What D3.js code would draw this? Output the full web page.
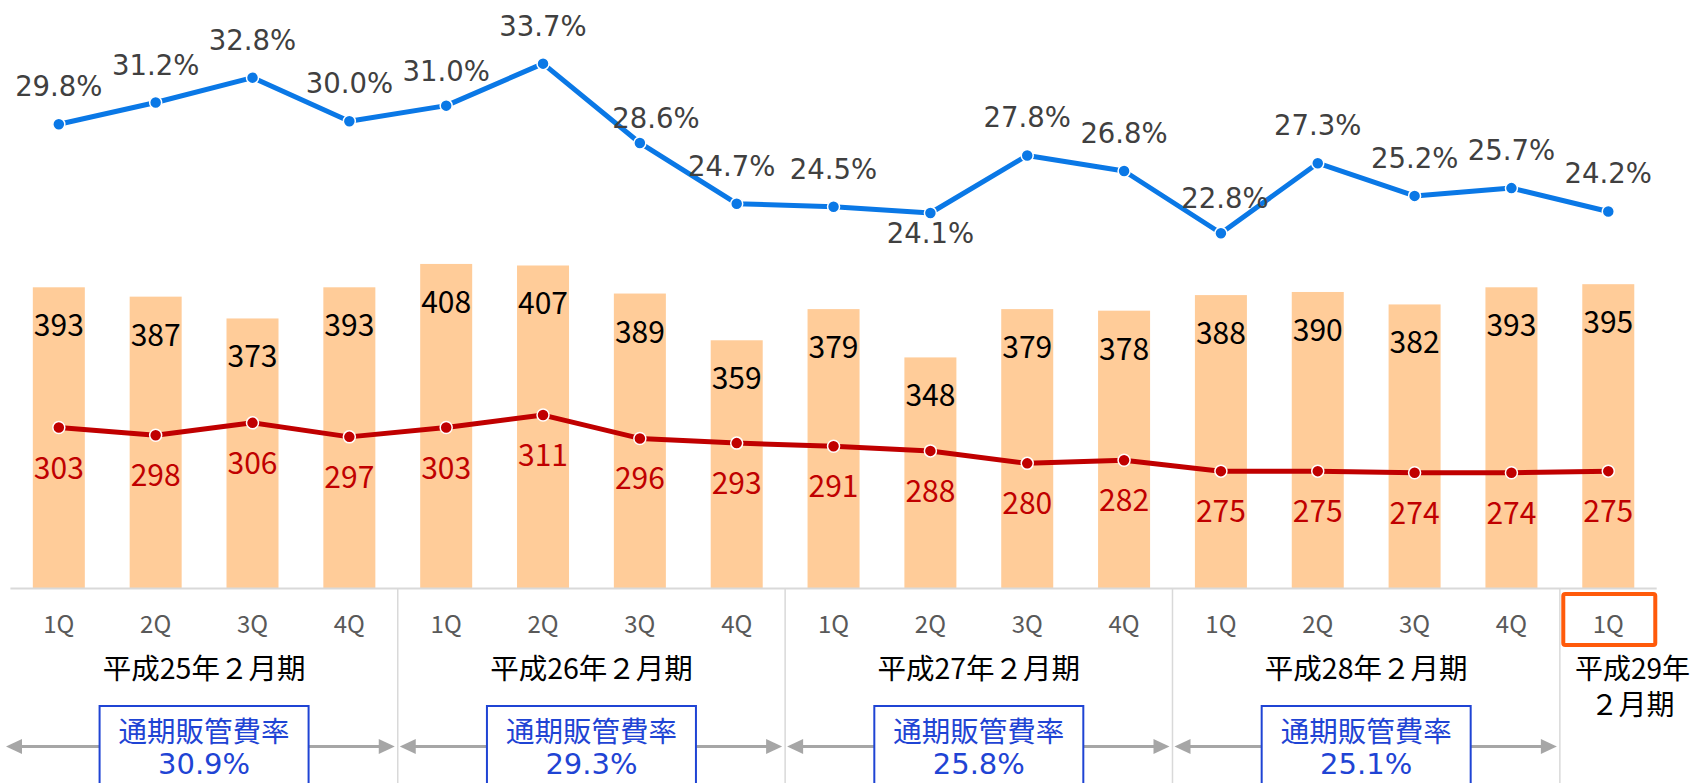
<!DOCTYPE html>
<html>
<head>
<meta charset="utf-8">
<script src="https://cdn.jsdelivr.net/npm/d3@7"></script>
<style>
  html, body { margin: 0; padding: 0; background: #fff; }
  svg { display: block; }
</style>
</head>
<body>
<svg id="chart" width="1697" height="783"></svg>
<script>
// ---------------- data ----------------
const categories = ["1Q","2Q","3Q","4Q","1Q","2Q","3Q","4Q","1Q","2Q","3Q","4Q","1Q","2Q","3Q","4Q","1Q"];
const fiscalYears = ["平成25年２月期","平成26年２月期","平成27年２月期","平成28年２月期","平成29年２月期"];
const groupSizes = [4, 4, 4, 4, 1];
const barValues = [393,387,373,393,408,407,389,359,379,348,379,378,388,390,382,393,395];
const redValues = [303,298,306,297,303,311,296,293,291,288,280,282,275,275,274,274,275];
const ratioValues = [29.8,31.2,32.8,30.0,31.0,33.7,28.6,24.7,24.5,24.1,27.8,26.8,22.8,27.3,25.2,25.7,24.2];
const annualRatioTitle = "通期販管費率";
const annualRatios = [30.9,29.3,25.8,25.1];

// ---------------- layout ----------------
const W = 1697, H = 783;
const baseY = 588;
const svg = d3.select("#chart");

const x = d3.scaleBand().domain(d3.range(categories.length)).range([10.4, 1656.7]).padding(0);
const bw = x.bandwidth();
const barW = bw * 0.537;
const cx = i => x(i) + bw / 2;

const yVal = d3.scaleLinear().domain([200, 400]).range([baseY, baseY - 311.6]);
const yPct = d3.scaleLinear().domain([0, 35]).range([baseY, baseY - 35 * 15.56]);

const numFont = "'DejaVu Sans', Verdana, sans-serif";
const jpFont = "'Noto Sans CJK JP', 'Noto Sans', sans-serif";

// bars
svg.append("g").selectAll("rect").data(barValues).join("rect")
  .attr("x", (d, i) => cx(i) - barW / 2)
  .attr("y", d => yVal(d))
  .attr("width", barW)
  .attr("height", d => baseY - yVal(d))
  .attr("fill", "#FFCC99");

// bar labels
svg.append("g").selectAll("text").data(barValues).join("text")
  .attr("x", (d, i) => cx(i))
  .attr("y", d => yVal(d) + 49)
  .attr("text-anchor", "middle")
  .attr("font-family", jpFont)
  .attr("font-size", 30)
  .attr("fill", "#000")
  .text(d => d);

// axis line
svg.append("line")
  .attr("x1", x.range()[0]).attr("x2", x.range()[1])
  .attr("y1", baseY + 0.5).attr("y2", baseY + 0.5)
  .attr("stroke", "#D9D9D9").attr("stroke-width", 2);

// red line
const redLine = d3.line().x((d, i) => cx(i)).y(d => yVal(d));
svg.append("path").datum(redValues)
  .attr("d", redLine).attr("fill", "none")
  .attr("stroke", "#C00000").attr("stroke-width", 5).attr("stroke-linejoin", "round");
svg.append("g").selectAll("circle").data(redValues).join("circle")
  .attr("cx", (d, i) => cx(i)).attr("cy", d => yVal(d)).attr("r", 6)
  .attr("fill", "#C00000").attr("stroke", "#fff").attr("stroke-width", 1.5);
svg.append("g").selectAll("text").data(redValues).join("text")
  .attr("x", (d, i) => cx(i))
  .attr("y", d => yVal(d) + 51)
  .attr("text-anchor", "middle")
  .attr("font-family", jpFont)
  .attr("font-size", 30)
  .attr("fill", "#C00000")
  .text(d => d);

// blue line
const blueLine = d3.line().x((d, i) => cx(i)).y(d => yPct(d));
svg.append("path").datum(ratioValues)
  .attr("d", blueLine).attr("fill", "none")
  .attr("stroke", "#0A78E6").attr("stroke-width", 5).attr("stroke-linejoin", "round");
svg.append("g").selectAll("circle").data(ratioValues).join("circle")
  .attr("cx", (d, i) => cx(i)).attr("cy", d => yPct(d)).attr("r", 6)
  .attr("fill", "#0A78E6").attr("stroke", "#fff").attr("stroke-width", 1.5);

// percent label placement tweaks (index -> [dx, dy of baseline relative to point])
const pctLabelShift = { 6: [16, -15], 7: [-5, -28], 9: [0, 30], 12: [4, -25], 4: [0, -25] };
const fmt = d3.format(".1f");
svg.append("g").selectAll("text").data(ratioValues).join("text")
  .attr("x", (d, i) => cx(i) + (pctLabelShift[i] ? pctLabelShift[i][0] : 0))
  .attr("y", (d, i) => yPct(d) + (pctLabelShift[i] ? pctLabelShift[i][1] : -28))
  .attr("text-anchor", "middle")
  .attr("font-family", numFont)
  .attr("font-size", 27.5)
  .attr("fill", "#404040")
  .text(d => fmt(d) + "%");

// quarter labels
svg.append("g").selectAll("text").data(categories).join("text")
  .attr("x", (d, i) => cx(i))
  .attr("y", 633)
  .attr("text-anchor", "middle")
  .attr("font-family", jpFont)
  .attr("font-size", 24)
  .attr("fill", "#595959")
  .text(d => d);

// groups
let start = 0;
const groups = groupSizes.map((n, g) => {
  const o = { g, start, end: start + n - 1, x0: x(start), x1: x(start + n - 1) + bw };
  start += n;
  return o;
});

// separators
groups.slice(1).forEach(gr => {
  svg.append("line")
    .attr("x1", gr.x0).attr("x2", gr.x0)
    .attr("y1", baseY).attr("y2", H)
    .attr("stroke", "#D9D9D9").attr("stroke-width", 1.5);
});

// year labels
groups.forEach((gr, g) => {
  const label = fiscalYears[g];
  if (gr.end > gr.start) {
    svg.append("text")
      .attr("x", (cx(gr.start) + cx(gr.end)) / 2)
      .attr("y", 679)
      .attr("text-anchor", "middle")
      .attr("font-family", jpFont)
      .attr("font-size", 28.5)
      .attr("fill", "#000")
      .text(label);
  } else {
    const mid = (gr.x0 + W) / 2 + 4;
    const cut = label.indexOf("年") + 1;
    [label.slice(0, cut), label.slice(cut)].forEach((line, k) => {
      svg.append("text")
        .attr("x", mid).attr("y", 679 + k * 36)
        .attr("text-anchor", "middle")
        .attr("font-family", jpFont)
        .attr("font-size", 28)
        .attr("fill", "#000")
        .text(line);
    });
  }
});

// highlight box on the latest quarter
const last = categories.length - 1;
svg.append("rect")
  .attr("x", cx(last) - 45).attr("y", 594)
  .attr("width", 92).attr("height", 51)
  .attr("rx", 2)
  .attr("fill", "none").attr("stroke", "#FF5A0A").attr("stroke-width", 4);

// arrows + annual boxes
const arrowY = 746.5;
const arrowColor = "#A6A6A6";
const boxBlue = "#1F44D4";
annualRatios.forEach((r, g) => {
  const gr = groups[g];
  const xl = g === 0 ? 6 : gr.x0 + 2;
  const xr = gr.x1 - 3;
  const head = 16, hh = 7.5;
  svg.append("line")
    .attr("x1", xl + head - 2).attr("x2", xr - head + 2)
    .attr("y1", arrowY).attr("y2", arrowY)
    .attr("stroke", arrowColor).attr("stroke-width", 3);
  svg.append("path")
    .attr("d", `M${xl},${arrowY}L${xl + head},${arrowY - hh}L${xl + head},${arrowY + hh}Z`)
    .attr("fill", arrowColor);
  svg.append("path")
    .attr("d", `M${xr},${arrowY}L${xr - head},${arrowY - hh}L${xr - head},${arrowY + hh}Z`)
    .attr("fill", arrowColor);

  const c = (cx(gr.start) + cx(gr.end)) / 2;
  svg.append("rect")
    .attr("x", c - 104.5).attr("y", 706)
    .attr("width", 209).attr("height", 100)
    .attr("fill", "#fff").attr("stroke", boxBlue).attr("stroke-width", 2);
  svg.append("text")
    .attr("x", c).attr("y", 742)
    .attr("text-anchor", "middle")
    .attr("font-family", jpFont)
    .attr("font-size", 28.5)
    .attr("fill", boxBlue)
    .text(annualRatioTitle);
  svg.append("text")
    .attr("x", c).attr("y", 774)
    .attr("text-anchor", "middle")
    .attr("font-family", numFont)
    .attr("font-size", 29)
    .attr("fill", boxBlue)
    .text(fmt(r) + "%");
});
</script>
</body>
</html>
